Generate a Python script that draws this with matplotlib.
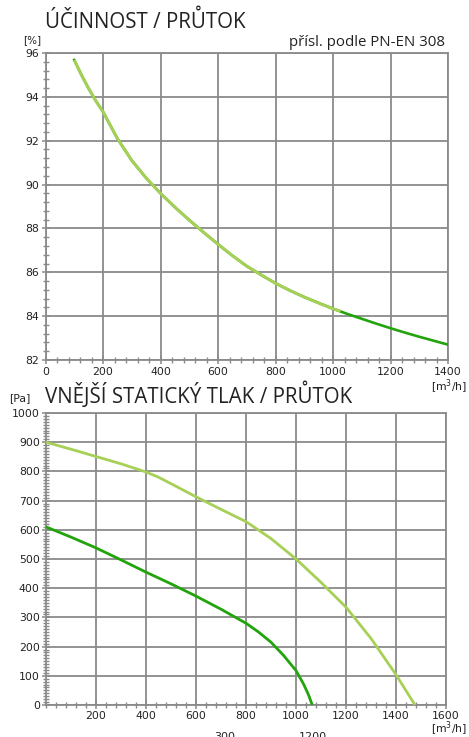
import numpy as np
import matplotlib
matplotlib.use("Agg")
import matplotlib.pyplot as plt
from matplotlib.ticker import MultipleLocator

# data
eff_x_dark = [100, 125, 150, 175, 200, 250, 300, 350, 400, 450, 500, 550, 600, 650, 700, 750, 800,
              850, 900, 950, 1000, 1050, 1100, 1150, 1200, 1250, 1300, 1350, 1400]
eff_y_dark = [95.68, 95.0, 94.38, 93.82, 93.32, 92.1, 91.1, 90.3, 89.6, 88.97, 88.38, 87.82, 87.28,
              86.76, 86.28, 85.88, 85.5, 85.17, 84.87, 84.6, 84.34, 84.1, 83.88, 83.66, 83.45,
              83.25, 83.06, 82.88, 82.70]
eff_x_light = [100, 125, 150, 175, 200, 250, 300, 350, 400, 450, 500, 550, 600, 650, 700, 750, 800,
               850, 900, 950, 1000, 1026]
eff_y_light = [95.68, 95.0, 94.38, 93.82, 93.32, 92.1, 91.1, 90.3, 89.6, 88.97, 88.38, 87.82, 87.28,
               86.76, 86.28, 85.88, 85.5, 85.17, 84.87, 84.6, 84.34, 84.22]

pr_x_light = [0, 100, 200, 300, 400, 450, 500, 600, 700, 800, 900, 1000, 1100, 1200, 1300, 1400, 1476]
pr_y_light = [900, 876, 851, 826, 798, 780, 758, 713, 670, 628, 570, 500, 420, 335, 228, 104, 0]
pr_x_dark = [0, 100, 200, 300, 400, 500, 600, 700, 800, 850, 900, 950, 1000, 1030, 1050, 1065]
pr_y_dark = [610, 575, 538, 497, 455, 415, 373, 328, 280, 250, 215, 170, 118, 72, 35, 0]

eff_xticks = [0, 200, 400, 600, 800, 1000, 1200, 1400]
eff_yticks = [82, 84, 86, 88, 90, 92, 94, 96]
pr_xticks = [200, 400, 600, 800, 1000, 1200, 1400, 1600]
pr_yticks = [0, 100, 200, 300, 400, 500, 600, 700, 800, 900, 1000]

DARK = "#22a40d"
LIGHT = "#a6d056"
GRID = "#8a8a8a"
TEXT = "#222222"
TITLE_FONT = "Open Sans"

W, H = 469, 737
fig = plt.figure(figsize=(W / 100, H / 100), dpi=100)


def px_axes(x0, y0, x1, y1):
    return fig.add_axes([x0 / W, 1 - y1 / H, (x1 - x0) / W, (y1 - y0) / H])


def style(ax):
    ax.grid(True, which="major", color=GRID, linewidth=1.3)
    for s in ax.spines.values():
        s.set_color(GRID)
        s.set_linewidth(1.3)
    ax.tick_params(which="major", direction="inout", length=6, width=1.1, color=GRID,
                   labelsize=7.8, pad=1.5, labelcolor=TEXT)
    ax.tick_params(which="minor", direction="inout", length=4.5, width=1.0, color=GRID)
    ax.set_axisbelow(True)


# --- top: efficiency ---
ax1 = px_axes(45.5, 53, 448, 360)
ax1.plot(eff_x_dark, eff_y_dark, color=DARK, lw=1.9, zorder=3)
ax1.plot(eff_x_light, eff_y_light, color=LIGHT, lw=2.1, solid_capstyle="butt", zorder=4)
ax1.set_xlim(0, 1400)
ax1.set_ylim(82, 96)
ax1.set_xticks(eff_xticks)
ax1.set_yticks(eff_yticks)
ax1.xaxis.set_minor_locator(MultipleLocator(40))
ax1.yaxis.set_minor_locator(MultipleLocator(0.4))
style(ax1)
ax1.tick_params(axis="x", pad=2.0)

fig.text(45 / W, 1 - 28 / H, "ÚČINNOST / PRŮTOK", family=TITLE_FONT, fontsize=14.8,
         color=TEXT, ha="left", va="baseline")
fig.text(32 / W, 1 - 40 / H, "[%]", fontsize=7.5, color=TEXT, ha="center", va="center")
fig.text(445 / W, 1 - 46 / H, "přísl. podle PN-EN 308", family=TITLE_FONT, fontsize=10.8,
         color=TEXT, ha="right", va="baseline")
fig.text(449 / W, 1 - 387 / H, "[m$^3$/h]", fontsize=7.8, color=TEXT, ha="center", va="center")

# --- bottom: external static pressure ---
ax2 = px_axes(46, 413, 446, 705)
ax2.plot(pr_x_light, pr_y_light, color=LIGHT, lw=2.0, solid_capstyle="butt", zorder=3)
ax2.plot(pr_x_dark, pr_y_dark, color=DARK, lw=2.0, solid_capstyle="butt", zorder=4)
ax2.set_xlim(0, 1600)
ax2.set_ylim(0, 1000)
ax2.set_xticks(pr_xticks)
ax2.set_yticks(pr_yticks)
ax2.xaxis.set_minor_locator(MultipleLocator(40))
ax2.yaxis.set_minor_locator(MultipleLocator(10))
style(ax2)
ax2.tick_params(axis="x", pad=1.0)

fig.text(45 / W, 1 - 403 / H, "VNĚJŠÍ STATICKÝ TLAK / PRŮTOK", family=TITLE_FONT, fontsize=14.8,
         color=TEXT, ha="left", va="baseline")
fig.text(20 / W, 1 - 398 / H, "[Pa]", fontsize=7.8, color=TEXT, ha="center", va="center")
fig.text(449 / W, 1 - 729 / H, "[m$^3$/h]", fontsize=7.8, color=TEXT, ha="center", va="center")

# labels cut off at the very bottom edge, as in the source image
fig.text(225 / W, 1 - 732 / H, "300", fontsize=8, color=TEXT, ha="center", va="top")
fig.text(313 / W, 1 - 732 / H, "1200", fontsize=8, color=TEXT, ha="center", va="top")

fig.savefig("out.png", dpi=100)
